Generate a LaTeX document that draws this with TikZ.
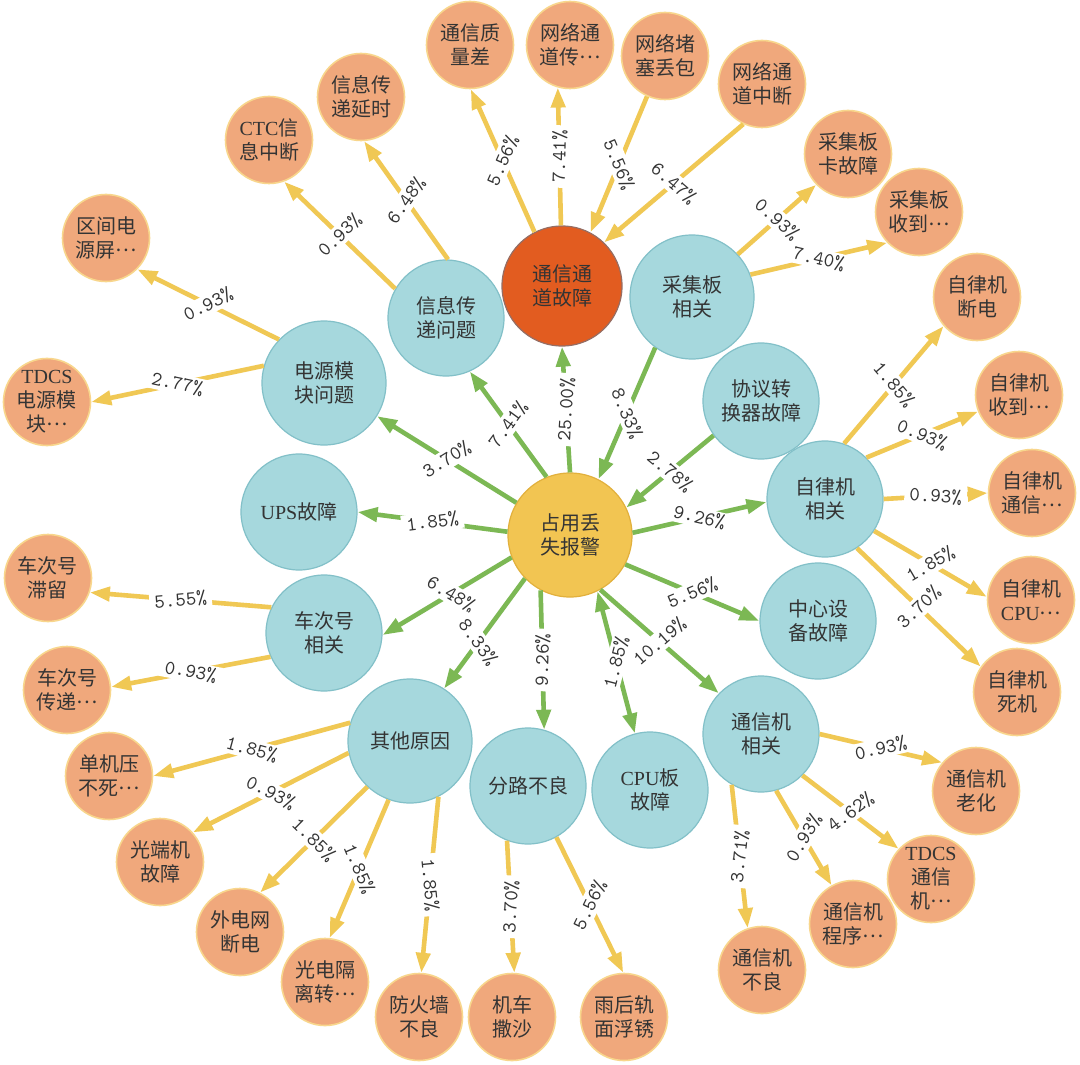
\documentclass[tikz,border=0pt]{standalone}
\usepackage{fontspec}
\setmainfont{Liberation Serif}
\newfontfamily\cjk{Noto Sans CJK SC}
\usetikzlibrary{arrows.meta}

\definecolor{hubfill}{RGB}{242,197,82}
\definecolor{hubline}{RGB}{226,176,60}
\definecolor{causefill}{RGB}{166,216,221}
\definecolor{causeline}{RGB}{130,192,200}
\definecolor{faultfill}{RGB}{226,92,32}
\definecolor{faultline}{RGB}{150,110,100}
\definecolor{leaffill}{RGB}{240,168,124}
\definecolor{leafline}{RGB}{248,214,140}
\definecolor{greenarrow}{RGB}{124,184,84}
\definecolor{yellowarrow}{RGB}{240,200,84}
\definecolor{txtgray}{RGB}{52,52,52}

\newcommand{\romn}[1]{{\rmfamily #1}}
\newcommand{\mdots}{\raisebox{0.3em}{…}}

\begin{document}
\begin{tikzpicture}[x=0.5pt,y=0.5pt,yscale=-1,xscale=1,
  hub/.style={circle,draw=hubline,fill=hubfill,line width=0.6pt,minimum size=62pt,inner sep=0pt,align=center,text=txtgray,font=\cjk\fontsize{10}{12}\selectfont},
  cause/.style={circle,draw=causeline,fill=causefill,line width=0.6pt,minimum size=58pt,inner sep=0pt,align=center,text=txtgray,font=\cjk\fontsize{10}{12}\selectfont},
  bigcause/.style={cause,minimum size=62pt},
  fault/.style={cause,minimum size=60pt,draw=faultline,fill=faultfill},
  leaf/.style={circle,draw=leafline,fill=leaffill,line width=0.8pt,minimum size=43.5pt,inner sep=0pt,align=center,text=txtgray,font=\cjk\fontsize{10}{12}\selectfont},
  gline/.style={draw=greenarrow,line width=2.3pt,-{Triangle[length=10pt,width=7pt]}},
  gboth/.style={gline,{Triangle[length=10pt,width=7pt]}-{Triangle[length=10pt,width=7pt]}},
  yline/.style={draw=yellowarrow,line width=2.3pt,-{Triangle[length=10pt,width=7pt]}},
  pct/.style={midway,sloped,fill=white,inner xsep=2.5pt,inner ysep=1pt,text=txtgray,font=\ttfamily\fontsize{10}{10}\selectfont}]
\useasboundingbox (0,0) rectangle (1080,1064);
\fill[white] (0,0) rectangle (1080,1064);

% Hub Node
\node[hub] (hub) at (570,535) {占用丢\\失报警};

% Cause Nodes
\node[fault] (chan) at (562,286) {通信通\\道故障};
\node[cause] (info) at (446,318) {信息传\\递问题};
\node[bigcause] (acq) at (692,297) {采集板\\相关};
\node[bigcause] (power) at (324,383) {电源模\\块问题};
\node[cause] (proto) at (761,401) {协议转\\换器故障};
\node[cause] (ups) at (299,512) {\romn{UPS}故障};
\node[cause] (auto) at (825,499) {自律机\\相关};
\node[cause] (train) at (324,633) {车次号\\相关};
\node[cause] (center) at (818,621) {中心设\\备故障};
\node[bigcause] (other) at (410,741) {其他原因};
\node[cause] (shunt) at (528,786) {分路不良};
\node[cause] (cpu) at (650,790) {\romn{CPU}板\\故障};
\node[cause] (comm) at (761,734) {通信机\\相关};

% Leaf Nodes
\node[leaf] (q1) at (470,45) {通信质\\量差};
\node[leaf] (q2) at (570,45) {网络通\\道传\mdots};
\node[leaf] (q3) at (665,56) {网络堵\\塞丢包};
\node[leaf] (q4) at (762,84) {网络通\\道中断};
\node[leaf] (a1) at (848,154) {采集板\\卡故障};
\node[leaf] (a2) at (919,212) {采集板\\收到\mdots};
\node[leaf] (i1) at (361,97) {信息传\\递延时};
\node[leaf] (i2) at (269,140) {\romn{CTC}信\\息中断};
\node[leaf] (p1) at (106,238) {区间电\\源屏\mdots};
\node[leaf] (p2) at (47,402) {\romn{TDCS}\\电源模\\块\mdots};
\node[leaf] (t1) at (48,578) {车次号\\滞留};
\node[leaf] (t2) at (67,690) {车次号\\传递\mdots};
\node[leaf] (o1) at (109,776) {单机压\\不死\mdots};
\node[leaf] (o2) at (160,862) {光端机\\故障};
\node[leaf] (o3) at (240,932) {外电网\\断电};
\node[leaf] (o4) at (325,982) {光电隔\\离转\mdots};
\node[leaf] (o5) at (419,1017) {防火墙\\不良};
\node[leaf] (s1) at (512,1017) {机车\\撒沙};
\node[leaf] (s2) at (624,1017) {雨后轨\\面浮锈};
\node[leaf] (c1) at (762,970) {通信机\\不良};
\node[leaf] (c2) at (853,924) {通信机\\程序\mdots};
\node[leaf] (c3) at (931,879) {\romn{TDCS}\\通信\\机\mdots};
\node[leaf] (c4) at (976,791) {通信机\\老化};
\node[leaf] (z1) at (977,297) {自律机\\断电};
\node[leaf] (z2) at (1019,395) {自律机\\收到\mdots};
\node[leaf] (z3) at (1032,493) {自律机\\通信\mdots};
\node[leaf] (z4) at (1031,600) {自律机\\\romn{CPU}\mdots};
\node[leaf] (z5) at (1017,692) {自律机\\死机};

%Straight Lines (hub)
\draw[gline] (hub.90) -- node[pct]{25.00\%} (chan.270);
\draw[gline] (hub.112) -- node[pct]{7.41\%} (info.294);
\draw[gline] (hub.149) -- node[pct]{3.70\%} (power.328);
\draw[gline] (hub.177) -- node[pct]{1.85\%} (ups.0);
\draw[gline] (hub.201) -- node[pct,pos=0.47]{6.48\%} (train.358);
\draw[gline] (hub.224) -- node[pct,pos=0.58]{8.33\%} (other.57);
\draw[gline] (hub.242) -- node[pct]{9.26\%} (shunt.74);
\draw[gboth] (hub.296) -- node[pct]{1.85\%} (cpu.105);
\draw[gline] (hub.299) -- node[pct]{10.19\%} (comm.136);
\draw[gline] (hub.332) -- node[pct]{5.56\%} (center.180);
\draw[gline] (hub.2) -- node[pct]{9.26\%} (auto.183);
\draw[gline] (proto.216) -- node[pct]{2.78\%} (hub.26);
\draw[gline] (acq.234) -- node[pct]{8.33\%} (hub.63);

%Straight Lines (leaves)
\draw[yline] (chan.117) -- node[pct]{5.56\%} (q1.271);
\draw[yline] (chan.91) -- node[pct]{7.41\%} (q2.254);
\draw[yline] (q3.246) -- node[pct]{5.56\%} (chan.62);
\draw[yline] (q4.245) -- node[pct]{6.47\%} (chan.46);
\draw[yline] (acq.43) -- node[pct]{0.93\%} (a1.224);
\draw[yline] (acq.21) -- node[pct]{7.40\%} (a2.224);
\draw[yline] (info.88) -- node[pct]{6.48\%} (i1.274);
\draw[yline] (info.150) -- node[pct]{0.93\%} (i2.290);
\draw[yline] (power.136) -- node[pct]{0.93\%} (p1.315);
\draw[yline] (power.164) -- node[pct]{2.77\%} (p2.0);
\draw[yline] (train.154) -- node[pct]{5.55\%} (t1.341);
\draw[yline] (train.204) -- node[pct]{0.93\%} (t2.4);
\draw[yline] (other.163) -- node[pct]{1.85\%} (o1.0);
\draw[yline] (other.191) -- node[pct]{0.93\%} (o2.42);
\draw[yline] (other.227) -- node[pct]{1.85\%} (o3.63);
\draw[yline] (other.250) -- node[pct]{1.85\%} (o4.84);
\draw[yline] (other.297) -- node[pct]{1.85\%} (o5.87);
\draw[yline] (shunt.249) -- node[pct]{3.70\%} (s1.87);
\draw[yline] (shunt.299) -- node[pct]{5.56\%} (s2.91);
\draw[yline] (comm.240) -- node[pct]{3.71\%} (c1.109);
\draw[yline] (comm.285) -- node[pct]{0.93\%} (c2.119);
\draw[yline] (comm.315) -- node[pct]{4.62\%} (c3.137);
\draw[yline] (comm.0) -- node[pct]{0.93\%} (c4.140);
\draw[yline] (auto.71) -- node[pct]{1.85\%} (z1.221);
\draw[yline] (auto.45) -- node[pct]{0.93\%} (z2.202);
\draw[yline] (auto.0) -- node[pct]{0.93\%} (z3.180);
\draw[yline] (auto.327) -- node[pct]{1.85\%} (z4.176);
\draw[yline] (auto.303) -- node[pct]{3.70\%} (z5.145);

\end{tikzpicture}
\end{document}
